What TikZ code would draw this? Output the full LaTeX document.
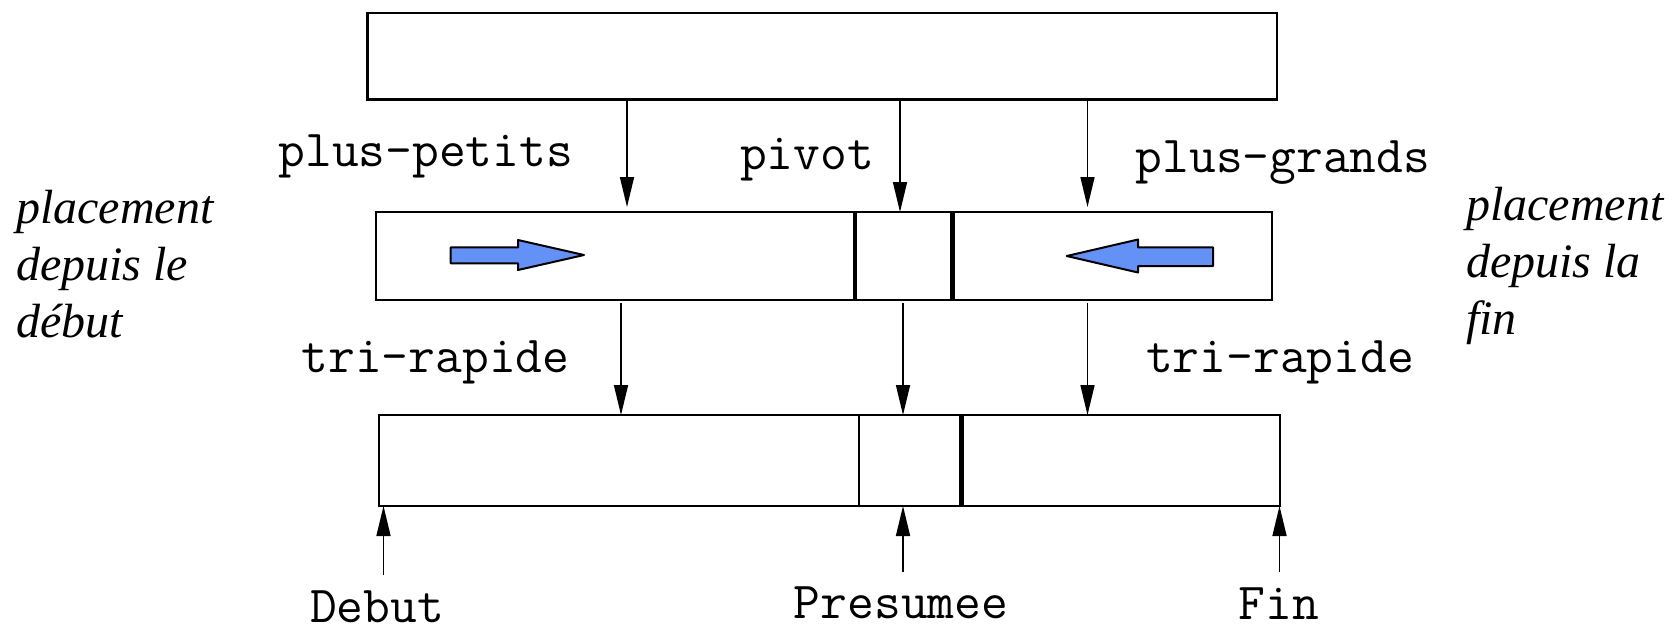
\documentclass[tikz,border=0pt]{standalone}
\usepackage{fontspec}
\setmainfont{Liberation Serif}
\usetikzlibrary{arrows.meta}
\definecolor{arrowblue}{RGB}{99,145,245}
\begin{document}
\begin{tikzpicture}[x=1pt,y=-1pt,
  box/.style={draw,line width=2.5pt,inner sep=0pt,outer sep=0pt},
  conn/.style={line width=1.6pt,-{Triangle[length=30pt,width=14pt]}},
  lbl/.style={font=\fontsize{52}{52}\selectfont\ttfamily,inner sep=0pt,anchor=base},
  side/.style={font=\fontsize{48}{57}\selectfont\itshape,align=left,inner sep=0pt,anchor=base west},
  divthick/.style={line width=4.5pt},
  divthin/.style={line width=2.5pt},
  bluearrow/.style={fill=arrowblue,draw=black,line width=2pt,line join=round}]
\useasboundingbox (0,0) rectangle (1680,630);

% boxes
\node[box,minimum width=909.5pt,minimum height=86.7pt] (top) at (822.25,56.25) {};
\node[box,minimum width=896pt,minimum height=88pt] (mid) at (824,256) {};
\node[box,minimum width=901pt,minimum height=91pt] (bot) at (829.5,460.5) {};

% dividers
\draw[divthick] (855,212) -- (855,300);
\draw[divthick] (952.5,212) -- (952.5,300);
\draw[divthin] (859,415) -- (859,506);
\draw[divthick] (961.5,415) -- (961.5,506);

% column coordinates
\coordinate (xa) at (627,0);
\coordinate (xb) at (900,0);
\coordinate (xc) at (1087.5,0);
\coordinate (xd) at (621,0);
\coordinate (xe) at (903,0);
\coordinate (xf) at (1087.5,0);

% top -> mid
\draw[conn,shorten >=5pt] (top.south -| xa) -- (mid.north -| xa);
\draw[conn] (top.south -| xb) -- (mid.north -| xb);
\draw[conn,shorten >=5pt] (top.south -| xc) -- (mid.north -| xc);

% mid -> bot
\draw[conn,shorten <=3pt] (mid.south -| xd) -- (bot.north -| xd);
\draw[conn,shorten <=3pt] (mid.south -| xe) -- (bot.north -| xe);
\draw[conn,shorten <=3pt] (mid.south -| xf) -- (bot.north -| xf);

% labels
\node[lbl] (pp) at (425.8,166) {plus-petits};
\node[lbl] (pv) at (807,169) {pivot};
\node[lbl] (pg) at (1283,172) {plus-grands};
\node[lbl] (tr1) at (435.5,372) {tri-rapide};
\node[lbl] (tr2) at (1280,372) {tri-rapide};
\node[lbl] (deb) at (377,622) {Debut};
\node[lbl] (pre) at (901,618) {Presumee};
\node[lbl] (fin) at (1279,619) {Fin};

% up arrows
\coordinate (u1) at (383.5,575);
\coordinate (u2) at (903,572);
\coordinate (u3) at (1279.5,572);
\draw[conn] (u1) -- (bot.south -| u1);
\draw[conn] (u2) -- (bot.south -| u2);
\draw[conn] (u3) -- (bot.south -| u3);

% side texts (base = last line)
\node[side] (sl) at (16,337) {placement\\depuis le\\d\'ebut};
\node[side] (sr) at (1466,334) {placement\\depuis la\\fin};

% blue arrows
\draw[bluearrow] (450.7,247.3) -- (518,247.3) -- (518,240) -- (584,255) -- (518,270) -- (518,263.3) -- (450.7,263.3) -- cycle;
\draw[bluearrow] (1213,247.3) -- (1138,247.3) -- (1138,239.5) -- (1066.7,256) -- (1138,272.5) -- (1138,266) -- (1213,266) -- cycle;
\end{tikzpicture}
\end{document}
